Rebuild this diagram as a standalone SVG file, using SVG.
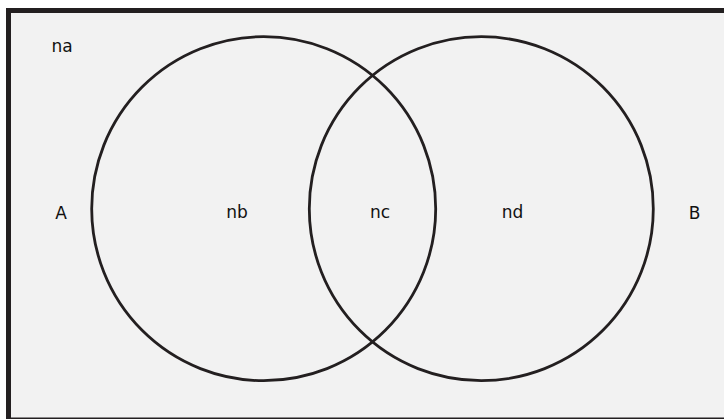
<svg xmlns="http://www.w3.org/2000/svg" width="724" height="419" viewBox="0 0 724 419">
<style>
.frame{fill:#f2f2f2;stroke:#231f20;stroke-width:5}
.set{fill:none;stroke:#231f20;stroke-width:2.8}
.lbl{font-family:"DejaVu Sans",sans-serif;font-size:17px;fill:#111;text-anchor:middle}
</style>
<rect width="724" height="419" fill="#ffffff"/>
<g id="universe">
<rect class="frame" x="8.5" y="10.5" width="730" height="409.5"/>
<text class="lbl" x="62" y="52">na</text>
<text class="lbl" x="61" y="219">A</text>
<text class="lbl" x="694.5" y="219">B</text>
</g>
<g id="setA">
<circle class="set" cx="263.7" cy="208.7" r="172"/>
<text class="lbl" x="237" y="218">nb</text>
</g>
<g id="intersection">
<text class="lbl" x="380" y="218">nc</text>
</g>
<g id="setB">
<circle class="set" cx="481.3" cy="208.7" r="172"/>
<text class="lbl" x="512.5" y="218">nd</text>
</g>
<g id="connectors"></g>
</svg>
